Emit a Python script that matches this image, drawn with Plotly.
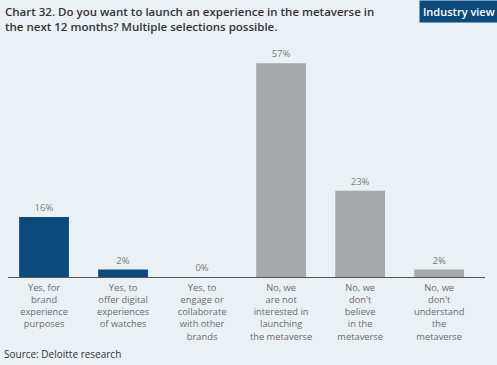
import plotly.graph_objects as go

categories = [
    "Yes, for<br>brand<br>experience<br>purposes",
    "Yes, to<br>offer digital<br>experiences<br>of watches",
    "Yes, to<br>engage or<br>collaborate<br>with other<br>brands",
    "No, we<br>are not<br>interested in<br>launching<br>the metaverse",
    "No, we<br>don't<br>believe<br>in the<br>metaverse",
    "No, we<br>don't<br>understand<br>the<br>metaverse",
]
values = [16, 2, 0, 57, 23, 2]
value_labels = ["16%", "2%", "0%", "57%", "23%", "2%"]
bar_colors = ["#0c4a7c", "#0c4a7c", "#0c4a7c", "#a6a8aa", "#a6a8aa", "#a6a8aa"]
title_text = ("Chart 32. Do you want to launch an experience in the metaverse in<br>"
              "the next 12 months? Multiple selections possible.")

W, H = 497, 365
L, R, T, B = 8, 12, 52, 88
pw, ph = W - L - R, H - T - B

def px(x):
    return (x - L) / pw

def py(y):
    return (H - B - y) / ph

fig = go.Figure()
fig.add_trace(go.Bar(
    x=list(range(len(categories))),
    y=values,
    marker=dict(color=bar_colors, line=dict(width=0)),
    width=0.63,
    text=value_labels,
    textposition="outside",
    cliponaxis=False,
    textfont=dict(family="Open Sans", size=9.5, color="#7b7b7b"),
    hoverinfo="skip",
))

fig.update_layout(
    width=W, height=H,
    margin=dict(l=L, r=R, t=T, b=B),
    paper_bgcolor="#eaf1f5",
    plot_bgcolor="#eaf1f5",
    showlegend=False,
    font=dict(family="Open Sans", color="#6b6b6b"),
    xaxis=dict(
        range=[-0.456, 5.58],
        tickmode="array",
        tickvals=list(range(len(categories))),
        ticktext=categories,
        tickfont=dict(family="Open Sans", size=9.3, color="#6b6b6b"),
        showline=True, linecolor="#555555", linewidth=1,
        showgrid=False, zeroline=False, ticks="", ticklen=0,
        ticklabelstandoff=2,
        fixedrange=True,
    ),
    yaxis=dict(
        range=[0, 60],
        visible=False,
        showgrid=False, zeroline=False,
        fixedrange=True,
    ),
)

fig.add_annotation(
    xref="paper", yref="paper", x=px(3), y=py(2),
    xanchor="left", yanchor="top", align="left", showarrow=False,
    text=title_text,
    font=dict(family="Open Sans", size=11.5, color="#333333", weight=600),
)
fig.add_annotation(
    xref="paper", yref="paper", x=px(419), y=py(0),
    xanchor="left", yanchor="top", showarrow=False,
    text="Industry view",
    bgcolor="#0c4a7c", borderpad=3,
    font=dict(family="Open Sans", size=11, color="#ffffff", weight=600),
)
fig.add_annotation(
    xref="paper", yref="paper", x=px(2), y=py(354),
    xanchor="left", yanchor="middle", showarrow=False,
    text="Source: Deloitte research",
    font=dict(family="Open Sans", size=10, color="#333333"),
)

fig.write_html(
    "out.html",
    config={"displayModeBar": False, "staticPlot": True},
    post_script="document.body.style.margin='0';document.body.style.overflow='hidden';",
)
